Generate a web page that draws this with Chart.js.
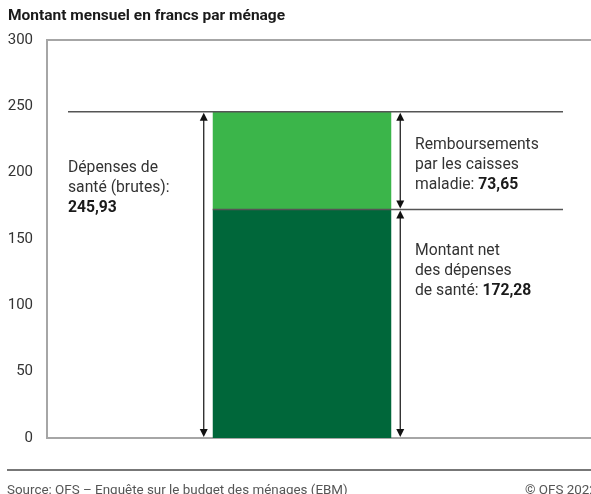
<!DOCTYPE html>
<html>
<head>
<meta charset="utf-8">
<script src="https://cdn.jsdelivr.net/npm/chart.js@4.4.0/dist/chart.umd.min.js"></script>
<style>
    html, body { margin: 0; padding: 0; background: #fff; }
    body { width: 591px; height: 494px; position: relative; overflow: hidden; font-family: Roboto, sans-serif; }
    #title { position: absolute; left: 8px; top: 6px; font-size: 15.5px; font-weight: bold; color: #1a1a1a; white-space: nowrap; }
    #footer { position: absolute; left: 7px; top: 482px; font-size: 13.4px; color: #555; white-space: nowrap; }
    #copy { position: absolute; left: 525px; top: 482px; font-size: 13.4px; color: #555; white-space: nowrap; }
    #wrap { position: absolute; left: 0; top: 0; width: 591px; height: 494px; }
</style>
</head>
<body>
<div id="wrap"><canvas id="healthChart"></canvas></div>
<div id="title">Montant mensuel en francs par ménage</div>
<div id="footer">Source: OFS – Enquête sur le budget des ménages (EBM)</div>
<div id="copy">© OFS 2022</div>
<script>
const categories = ["Dépenses de santé"];
const netValues = [172.28];      // montant net
const refundValues = [73.65];    // remboursements
const yTicks = [0, 50, 100, 150, 200, 250, 300];

const totalLabel = ["Dépenses de", "santé (brutes):"];
const refundLabel = ["Remboursements", "par les caisses", "maladie: "];
const netLabel = ["Montant net", "des dépenses", "de santé: "];

const FONT = "15.7px Roboto";
const FONT_B = "bold 15.7px Roboto";

function fmt(v) {
    return v.toFixed(2).replace(".", ",");
}

/* ===============================
   Lines, arrows and labels
=============================== */

function arrowHead(ctx, x, y, dir) {
    ctx.beginPath();
    ctx.moveTo(x, y);
    ctx.lineTo(x - 4, y - dir * 8);
    ctx.lineTo(x + 4, y - dir * 8);
    ctx.closePath();
    ctx.fill();
}

function vArrow(ctx, x, y1, y2) {
    // y1 top, y2 bottom
    ctx.beginPath();
    ctx.moveTo(x, y1 + 4);
    ctx.lineTo(x, y2 - 4);
    ctx.stroke();
    arrowHead(ctx, x, y1, -1);
    arrowHead(ctx, x, y2, 1);
}

function textBlock(ctx, x, y, lines, value) {
    ctx.fillStyle = "#333";
    ctx.textBaseline = "middle";
    ctx.textAlign = "left";
    lines.forEach((l, i) => {
        let yy = y + i * 20;
        ctx.font = FONT;
        ctx.fillText(l, x, yy);
        if (i == lines.length - 1 && value != null) {
            let w = ctx.measureText(l).width;
            ctx.font = FONT_B;
            ctx.fillStyle = "#1a1a1a";
            ctx.fillText(value, x + w, yy);
            ctx.fillStyle = "#333";
        }
    });
}

const annotations = {
    id: "annotations",
    beforeDatasetsDraw(chart) {
        const ctx = chart.ctx;
        const y = chart.scales.y;
        const area = chart.chartArea;
        ctx.save();
        // frame lines at 300 and 0
        ctx.strokeStyle = "#a6a6a6";
        ctx.lineWidth = 2;
        ctx.beginPath();
        ctx.moveTo(area.left, y.getPixelForValue(300));
        ctx.lineTo(591, y.getPixelForValue(300));
        ctx.stroke();
        ctx.beginPath();
        ctx.moveTo(area.left, y.getPixelForValue(0));
        ctx.lineTo(591, y.getPixelForValue(0));
        ctx.stroke();
        // footer separator
        ctx.strokeStyle = "#777";
        ctx.beginPath();
        ctx.moveTo(7, 470);
        ctx.lineTo(591, 470);
        ctx.stroke();
        ctx.restore();
    },
    afterDatasetsDraw(chart) {
        const ctx = chart.ctx;
        const y = chart.scales.y;
        const bar = chart.getDatasetMeta(0).data[0];
        const left = bar.x - bar.width / 2;
        const right = bar.x + bar.width / 2;
        const net = netValues[0];
        const total = netValues[0] + refundValues[0];
        const yTotal = y.getPixelForValue(total);
        const yNet = y.getPixelForValue(net);
        const y0 = y.getPixelForValue(0);

        ctx.save();
        ctx.strokeStyle = "#555";
        ctx.lineWidth = 1.5;
        ctx.beginPath();
        ctx.moveTo(68, yTotal);
        ctx.lineTo(563, yTotal);
        ctx.stroke();
        ctx.beginPath();
        ctx.moveTo(left, yNet);
        ctx.lineTo(563, yNet);
        ctx.stroke();

        ctx.strokeStyle = "#111";
        ctx.fillStyle = "#111";
        ctx.lineWidth = 1.2;
        vArrow(ctx, left - 9, yTotal + 1, y0 - 1);
        vArrow(ctx, right + 9, yTotal + 1, yNet - 1);
        vArrow(ctx, right + 9, yNet + 1, y0 - 1);

        textBlock(ctx, 68, 168, totalLabel, null);
        ctx.font = FONT_B;
        ctx.fillStyle = "#1a1a1a";
        ctx.fillText(fmt(total), 68, 208);
        textBlock(ctx, 415, 145, refundLabel, fmt(refundValues[0]));
        textBlock(ctx, 415, 251, netLabel, fmt(net));
        ctx.restore();
    }
};

/* ===============================
   Bar chart
=============================== */

const healthCtx = document.getElementById("healthChart");

new Chart(healthCtx, {
    type: "bar",
    data: {
        labels: categories,
        datasets: [{
            label: "Montant net",
            data: netValues,
            backgroundColor: "#00673a",
            barPercentage: 0.35,
            categoryPercentage: 1
        }, {
            label: "Remboursements",
            data: refundValues,
            backgroundColor: "#3bb54a",
            barPercentage: 0.35,
            categoryPercentage: 1
        }]
    },
    options: {
        responsive: true,
        maintainAspectRatio: false,
        animation: false,
        layout: {
            padding: { top: 40, bottom: 56, right: 34, left: 0 }
        },
        plugins: {
            legend: { display: false },
            tooltip: { enabled: false }
        },
        scales: {
            x: {
                display: false,
                stacked: true
            },
            y: {
                stacked: true,
                min: 0,
                max: 300,
                afterBuildTicks: (s) => { s.ticks = yTicks.map(v => ({ value: v })); },
                afterFit: (s) => { s.width = 47; },
                grid: { display: false, drawTicks: false },
                border: { display: true, color: "#a6a6a6", width: 2 },
                ticks: {
                    padding: 14,
                    color: "#333",
                    font: { family: "Roboto", size: 15 }
                }
            }
        }
    },
    plugins: [annotations]
});
</script>
</body>
</html>
